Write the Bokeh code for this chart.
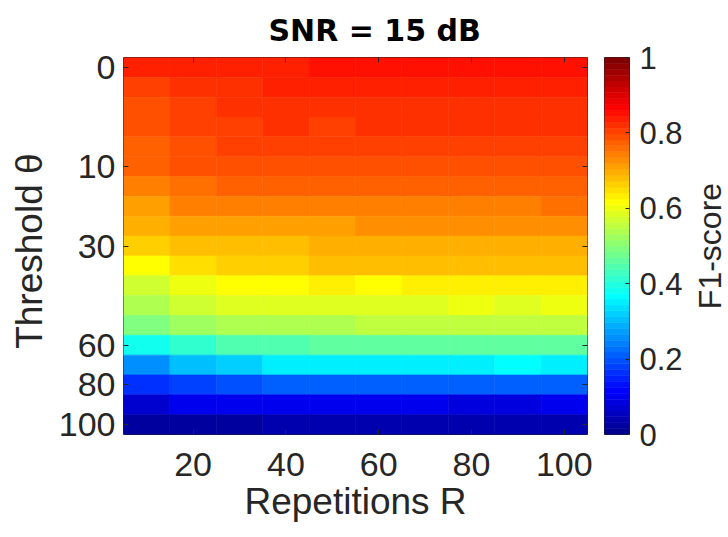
import numpy as np
from bokeh.plotting import figure
from bokeh.layouts import row
from bokeh.models import (LinearColorMapper, FixedTicker, LinearAxis,
                          Range1d, ColumnDataSource, NumeralTickFormatter)
from bokeh.transform import transform
from bokeh.embed import file_html
from bokeh.resources import INLINE

# ---------------- data ----------------
repetitions = [10, 20, 30, 40, 50, 60, 70, 80, 90, 100]
x_ticks = [20, 40, 60, 80, 100]
y_tick_rows = [1, 6, 10, 15, 17, 19]
y_tick_labels = ["0", "10", "30", "60", "80", "100"]
cbar_ticks = [0, 0.2, 0.4, 0.6, 0.8, 1]

row01 = [0.836, 0.836, 0.836, 0.836, 0.852, 0.852, 0.852, 0.852, 0.852, 0.852]
row02 = [0.805, 0.820, 0.820, 0.836, 0.836, 0.836, 0.836, 0.836, 0.836, 0.836]
row03 = [0.789, 0.805, 0.820, 0.820, 0.820, 0.820, 0.820, 0.820, 0.820, 0.820]
row04 = [0.789, 0.805, 0.805, 0.820, 0.805, 0.820, 0.820, 0.820, 0.820, 0.820]
row05 = [0.773, 0.789, 0.805, 0.805, 0.805, 0.805, 0.805, 0.805, 0.805, 0.805]
row06 = [0.773, 0.789, 0.789, 0.789, 0.789, 0.789, 0.789, 0.789, 0.789, 0.789]
row07 = [0.742, 0.758, 0.773, 0.773, 0.773, 0.773, 0.773, 0.773, 0.773, 0.773]
row08 = [0.711, 0.742, 0.742, 0.742, 0.742, 0.742, 0.742, 0.742, 0.742, 0.758]
row09 = [0.695, 0.711, 0.711, 0.711, 0.711, 0.727, 0.727, 0.727, 0.727, 0.727]
row10 = [0.664, 0.680, 0.680, 0.680, 0.695, 0.695, 0.695, 0.695, 0.695, 0.695]
row11 = [0.617, 0.648, 0.664, 0.664, 0.680, 0.680, 0.680, 0.680, 0.680, 0.680]
row12 = [0.570, 0.602, 0.617, 0.617, 0.633, 0.617, 0.633, 0.633, 0.633, 0.633]
row13 = [0.539, 0.570, 0.586, 0.586, 0.586, 0.586, 0.586, 0.602, 0.586, 0.602]
row14 = [0.492, 0.523, 0.539, 0.539, 0.539, 0.555, 0.555, 0.555, 0.555, 0.555]
row15 = [0.383, 0.414, 0.445, 0.445, 0.461, 0.461, 0.461, 0.461, 0.461, 0.461]
row16 = [0.258, 0.305, 0.320, 0.352, 0.352, 0.352, 0.352, 0.352, 0.367, 0.352]
row17 = [0.164, 0.180, 0.195, 0.211, 0.211, 0.211, 0.211, 0.211, 0.211, 0.211]
row18 = [0.070, 0.102, 0.102, 0.102, 0.102, 0.102, 0.102, 0.086, 0.086, 0.102]
row19 = [0.023, 0.023, 0.023, 0.039, 0.039, 0.039, 0.039, 0.039, 0.039, 0.039]

rows = [row01, row02, row03, row04, row05, row06, row07, row08, row09, row10,
        row11, row12, row13, row14, row15, row16, row17, row18, row19]

# ---------------- MATLAB jet(64) palette ----------------
def jet(m=64):
    n = int(np.ceil(m / 4))
    u = np.concatenate([np.arange(1, n + 1) / n, np.ones(n - 1), np.arange(n, 0, -1) / n])
    g = int(np.ceil(n / 2)) - (1 if m % 4 == 1 else 0) + np.arange(1, len(u) + 1)
    r = g + n
    b = g - n
    J = np.zeros((m, 3))
    for idx_arr, ch in ((r, 0), (g, 1), (b, 2)):
        for i, val in zip(idx_arr, u):
            if 1 <= i <= m:
                J[i - 1, ch] = val
    return ["#%02x%02x%02x" % tuple(int(round(c * 255)) for c in rgb) for rgb in J]

palette = jet(64)
mapper = LinearColorMapper(palette=palette, low=0, high=1)

xs, ys, vs = [], [], []
for ri, rw in enumerate(rows):
    for ci, v in enumerate(rw):
        xs.append(repetitions[ci])
        ys.append(ri + 1)
        vs.append(v)
src = ColumnDataSource(dict(x=xs, y=ys, v=vs))

FONT = "Liberation Sans"
TXT = "#262626"
TICK_FS = "34px"
LABEL_FS = "37px"
CB_TICK_FS = "31px"
CB_LABEL_FS = "32px"
H = 532

# ---------------- main heatmap ----------------
p = figure(width=597, height=H, output_backend="svg", toolbar_location=None,
           x_range=Range1d(5, 105), y_range=Range1d(len(rows) + 0.5, 0.5),
           min_border_left=123, min_border_right=10, min_border_top=55,
           min_border_bottom=98)

p.rect(x="x", y="y", width=10, height=1, source=src,
       fill_color=transform("v", mapper), line_color=transform("v", mapper),
       line_width=0.6)

p.grid.visible = False
p.outline_line_color = TXT
p.outline_line_width = 1
p.background_fill_color = "white"
p.border_fill_color = "white"

p.title.text = "SNR = 15 dB"
p.title.align = "left"
p.title.offset = 145
p.title.text_font = "DejaVu Sans"
p.title.text_font_size = "30px"
p.title.text_font_style = "bold"
p.title.text_color = "black"
p.title.standoff = 20

def style_axis(ax):
    ax.major_tick_in = 5
    ax.major_tick_out = 0
    ax.minor_tick_line_color = None
    ax.major_tick_line_color = TXT
    ax.axis_line_color = None
    ax.major_label_text_font = FONT
    ax.major_label_text_font_size = TICK_FS
    ax.major_label_text_color = TXT
    ax.axis_label_text_font = FONT
    ax.axis_label_text_font_size = LABEL_FS
    ax.axis_label_text_font_style = "normal"
    ax.axis_label_text_color = TXT

xa = p.xaxis[0]
style_axis(xa)
xa.ticker = FixedTicker(ticks=x_ticks)
xa.axis_label = "Repetitions R"
xa.major_label_standoff = 18
xa.axis_label_standoff = 2

ya = p.yaxis[0]
style_axis(ya)
ya.ticker = FixedTicker(ticks=y_tick_rows)
ya.major_label_overrides = {r: t for r, t in zip(y_tick_rows, y_tick_labels)}
ya.axis_label = "Threshold  \u03b8"
ya.major_label_standoff = 8
ya.axis_label_standoff = 6

top = LinearAxis(ticker=FixedTicker(ticks=x_ticks))
style_axis(top)
top.major_label_text_font_size = "0px"
top.major_label_text_color = None
top.major_label_standoff = 0
p.add_layout(top, "above")

right = LinearAxis(ticker=FixedTicker(ticks=y_tick_rows))
style_axis(right)
right.major_label_text_font_size = "0px"
right.major_label_text_color = None
right.major_label_standoff = 0
p.add_layout(right, "right")

# ---------------- colour bar (own narrow figure) ----------------
n_col = len(palette)
cb_src = ColumnDataSource(dict(
    bottom=[i / n_col for i in range(n_col)],
    top=[(i + 1) / n_col for i in range(n_col)],
    color=palette))

cbf = figure(width=88, height=H, output_backend="svg", toolbar_location=None,
             x_range=Range1d(0, 1), y_range=Range1d(0, 1),
             min_border_left=7, min_border_right=53, min_border_top=53,
             min_border_bottom=97, y_axis_location="right")
cbf.quad(left=0, right=1, bottom="bottom", top="top", source=cb_src,
         fill_color="color", line_color="color", line_width=0.6)
cbf.grid.visible = False
cbf.xaxis.visible = False
cbf.outline_line_color = TXT
cbf.outline_line_width = 1
cbf.border_fill_color = "white"

cya = cbf.yaxis[0]
style_axis(cya)
cya.ticker = FixedTicker(ticks=cbar_ticks)
cya.formatter = NumeralTickFormatter(format="0.[0]")
cya.major_tick_in = 4
cya.major_label_text_font_size = CB_TICK_FS
cya.major_label_standoff = 10

# ---------------- colour bar label (left axis of a thin figure) ----------------
lf = figure(width=43, height=H, output_backend="svg", toolbar_location=None,
            x_range=Range1d(0, 1), y_range=Range1d(0, 1),
            min_border_left=42, min_border_right=0, min_border_top=53,
            min_border_bottom=97)
lf.grid.visible = False
lf.xaxis.visible = False
lf.outline_line_color = None
lf.border_fill_color = "white"
lf.background_fill_color = "white"
lya = lf.yaxis[0]
style_axis(lya)
lya.ticker = FixedTicker(ticks=[])
lya.major_label_text_font_size = "0px"
lya.major_label_text_color = None
lya.major_label_standoff = 0
lya.axis_label = "F1-score"
lya.axis_label_text_font_size = CB_LABEL_FS
lya.axis_label_standoff = 0

layout = row(p, cbf, lf)
open("out.html", "w").write(file_html(layout, INLINE))
